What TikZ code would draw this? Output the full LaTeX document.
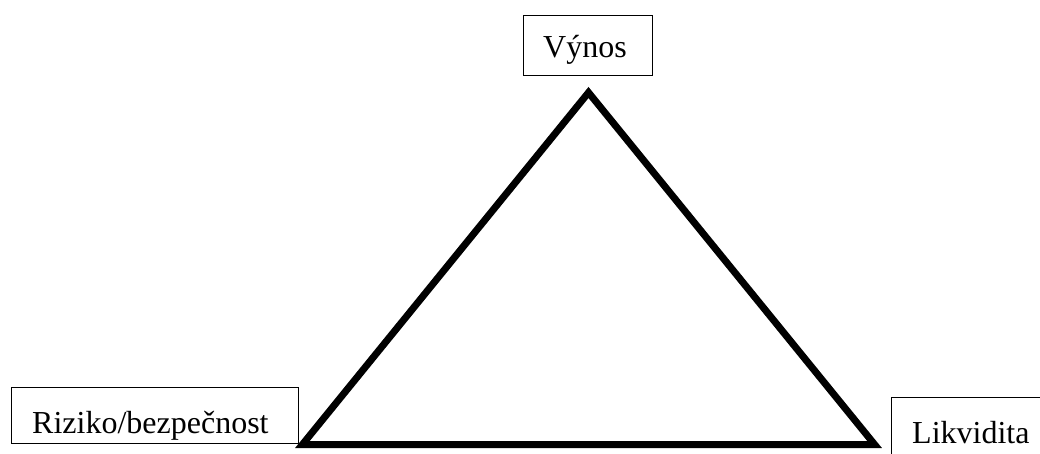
\documentclass[tikz,border=0pt]{standalone}
\usepackage{fontspec}
\setmainfont{Liberation Serif}
\begin{document}
\begin{tikzpicture}[x=1pt,y=-1pt,
  box/.style={draw=black, line width=1pt, inner sep=0pt, anchor=north west},
  lbl/.style={font=\fontsize{32}{38}\selectfont, inner sep=0pt, anchor=base west},
  tri/.style={line width=7pt, line join=miter, miter limit=10}]
\useasboundingbox (0,0) rectangle (1040,453);
\clip (0,0) rectangle (1040,453);
% boxes
\node[box, minimum width=129pt, minimum height=60pt] (vb) at (523,15) {};
\node[lbl] (vt) at (543,57) {Výnos};
\node[box, minimum width=287pt, minimum height=56pt] (rb) at (11,387) {};
\node[lbl] (rt) at (32,433) {Riziko/bezpečnost};
\node[box, minimum width=160pt, minimum height=70pt] (lb) at (891,397) {};
\node[lbl] (lt) at (912,443) {Likvidita};
% triangle
\coordinate (A) at (588.5,92.5);
\coordinate (B) at (302.4,444.5);
\coordinate (C) at (874.6,444.5);
\draw[tri] (A) -- (B) -- (C) -- cycle;
\end{tikzpicture}
\end{document}
